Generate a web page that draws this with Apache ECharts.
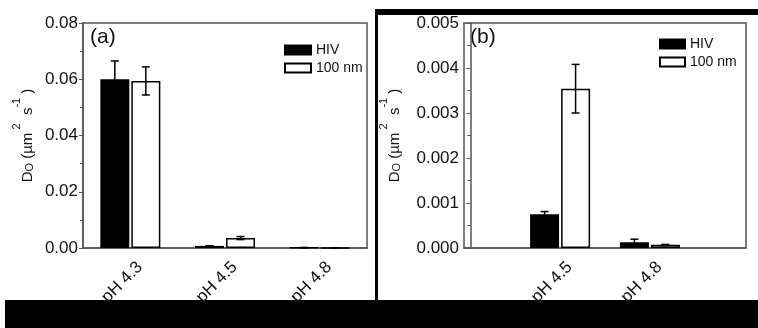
<!DOCTYPE html>
<html>
<head>
<meta charset="utf-8">
<script src="https://cdn.jsdelivr.net/npm/echarts@6/dist/echarts.min.js"></script>
<style>
  html, body { margin: 0; padding: 0; background: #fff; }
  #main { width: 758px; height: 328px; }
</style>
</head>
<body>
<div id="main"></div>
<script>
  // tick labels / categories
  var phLabels = ['pH 4.3', 'pH 4.5', 'pH 4.8'];
  var seriesNames = ['HIV', '100 nm'];

  // panel (a): all three pH values
  var hivA = [0.0600, 0.00075, 0.00013];
  var nmA = [0.0594, 0.00353, 0.00007];
  var hivErrA = [0.0065, 0.00006, 0.00007];
  var nmErrA = [0.0050, 0.00054, 0.00001];

  // panel (b): only pH 4.5 and pH 4.8 (index into phLabels)
  var catsB = [1, 2];
  var hivB = [0.00075, 0.000126];
  var nmB = [0.00354, 0.00007];
  var hivErrB = [0.00006, 0.00007];
  var nmErrB = [0.00054, 0.00001];

  var font = "'Liberation Sans', Arial, sans-serif";
  var axisColor = '#555';
  var barW = 29;
  var half = 15.5; // half of bar width + gap

  function errData(xs, vals, errs) {
    return vals.map(function (v, i) { return [xs[i], v - errs[i], v + errs[i]]; });
  }

  // error bar drawn through the axes with api.coord
  function errItem(offset) {
    return function (params, api) {
      var x = api.value(0);
      var top = api.coord([x, api.value(2)]);
      var bot = api.coord([x, api.value(1)]);
      var cx = top[0] + offset;
      var st = { stroke: '#000', lineWidth: 1.5 };
      return {
        type: 'group',
        children: [
          { type: 'line', shape: { x1: cx, y1: top[1], x2: cx, y2: bot[1] }, style: st },
          { type: 'line', shape: { x1: cx - 4, y1: top[1], x2: cx + 4, y2: top[1] }, style: st },
          { type: 'line', shape: { x1: cx - 4, y1: bot[1], x2: cx + 4, y2: bot[1] }, style: st }
        ]
      };
    };
  }

  var yName = '{m|D}{s|O}{m| (µm}{p| 2}{m|  s}{p|-1}{m| )}';
  var yNameStyle = {
    fontFamily: font,
    color: '#111',
    rich: {
      m: { fontSize: 15, fontFamily: font, verticalAlign: 'bottom', lineHeight: 15 },
      s: { fontSize: 11, fontFamily: font, verticalAlign: 'bottom', lineHeight: 15 },
      p: { fontSize: 11, fontFamily: font, verticalAlign: 'bottom', lineHeight: 11, padding: [0, 0, 13, 0] }
    }
  };

  function yAxis(gridIndex, max, interval, digits, gap) {
    return {
      type: 'value', gridIndex: gridIndex, min: 0, max: max, interval: interval,
      name: yName, nameLocation: 'middle', nameGap: gap, nameRotate: 90,
      nameTextStyle: yNameStyle,
      axisLine: { show: true, lineStyle: { color: axisColor, width: 1.5 } },
      axisTick: { show: true, length: 4, lineStyle: { color: axisColor } },
      minorTick: { show: true, splitNumber: 2, length: 3, lineStyle: { color: axisColor } },
      splitLine: { show: false },
      axisLabel: {
        fontSize: 17, fontFamily: font, color: '#111', margin: 5,
        formatter: function (v) { return v.toFixed(digits); }
      }
    };
  }

  var xLabel = {
    rotate: 45, fontSize: 17, fontFamily: font, color: '#111', margin: 14,
    verticalAlign: 'top', padding: [0, -5, 0, 0]
  };

  var chart = echarts.init(document.getElementById('main'));
  chart.setOption({
    backgroundColor: '#fff',
    animation: false,
    grid: [
      { left: 83, top: 23, width: 284, height: 225, show: true, borderColor: axisColor, borderWidth: 1.5 },
      { left: 464, top: 23, width: 282, height: 225, show: true, borderColor: axisColor, borderWidth: 1.5 }
    ],
    xAxis: [
      {
        type: 'category', gridIndex: 0, data: phLabels,
        axisLine: { show: true, lineStyle: { color: axisColor, width: 1.5 } },
        axisTick: { show: false },
        axisLabel: xLabel
      },
      {
        type: 'value', gridIndex: 1, min: -0.07, max: 3.07,
        splitLine: { show: false },
        axisLine: { show: true, lineStyle: { color: axisColor, width: 1.5 } },
        axisTick: { show: false },
        axisLabel: Object.assign({}, xLabel, {
          customValues: catsB,
          formatter: function (v) { return phLabels[Math.round(v)]; }
        })
      }
    ],
    yAxis: [
      yAxis(0, 0.08, 0.02, 2, 48),
      yAxis(1, 0.005, 0.001, 3, 62)
    ],
    legend: [
      {
        left: 279, top: 38, orient: 'vertical', itemWidth: 26, itemHeight: 9, itemGap: 4,
        icon: 'rect', data: seriesNames,
        textStyle: { fontSize: 14, fontFamily: font, color: '#111' }
      },
      {
        left: 654, top: 32, orient: 'vertical', itemWidth: 25, itemHeight: 9, itemGap: 4,
        icon: 'rect', data: seriesNames,
        textStyle: { fontSize: 14, fontFamily: font, color: '#111' }
      }
    ],
    graphic: [
      { type: 'text', left: 90, top: 27, style: { text: '(a)', fontSize: 21, fontFamily: font, fill: '#111' } },
      { type: 'text', left: 470, top: 27, style: { text: '(b)', fontSize: 21, fontFamily: font, fill: '#111' } },
      { type: 'rect', shape: { x: 376, y: 9, width: 382, height: 6 }, style: { fill: '#000' } },
      { type: 'rect', shape: { x: 375, y: 9, width: 3, height: 291 }, style: { fill: '#000' } },
      { type: 'rect', shape: { x: 5, y: 300, width: 753, height: 28 }, style: { fill: '#000' } }
    ],
    series: [
      {
        name: 'HIV', type: 'bar', xAxisIndex: 0, yAxisIndex: 0, barWidth: barW, barGap: '7%',
        itemStyle: { color: '#000', borderColor: '#000', borderWidth: 1.5 },
        data: hivA
      },
      {
        name: '100 nm', type: 'bar', xAxisIndex: 0, yAxisIndex: 0, barWidth: barW, barGap: '7%',
        itemStyle: { color: '#fff', borderColor: '#000', borderWidth: 1.5 },
        data: nmA
      },
      {
        type: 'custom', xAxisIndex: 0, yAxisIndex: 0, renderItem: errItem(-half), z: 5,
        data: errData([0, 1, 2], hivA, hivErrA)
      },
      {
        type: 'custom', xAxisIndex: 0, yAxisIndex: 0, renderItem: errItem(half), z: 5,
        data: errData([0, 1, 2], nmA, nmErrA)
      },
      {
        name: 'HIV', type: 'bar', xAxisIndex: 1, yAxisIndex: 1, barWidth: barW, barGap: '7%',
        itemStyle: { color: '#000', borderColor: '#000', borderWidth: 1.5 },
        data: hivB.map(function (v, i) { return [catsB[i], v]; })
      },
      {
        name: '100 nm', type: 'bar', xAxisIndex: 1, yAxisIndex: 1, barWidth: barW, barGap: '7%',
        itemStyle: { color: '#fff', borderColor: '#000', borderWidth: 1.5 },
        data: nmB.map(function (v, i) { return [catsB[i], v]; })
      },
      {
        type: 'custom', xAxisIndex: 1, yAxisIndex: 1, renderItem: errItem(-half), z: 5,
        data: errData(catsB, hivB, hivErrB)
      },
      {
        type: 'custom', xAxisIndex: 1, yAxisIndex: 1, renderItem: errItem(half), z: 5,
        data: errData(catsB, nmB, nmErrB)
      }
    ]
  });
</script>
</body>
</html>
